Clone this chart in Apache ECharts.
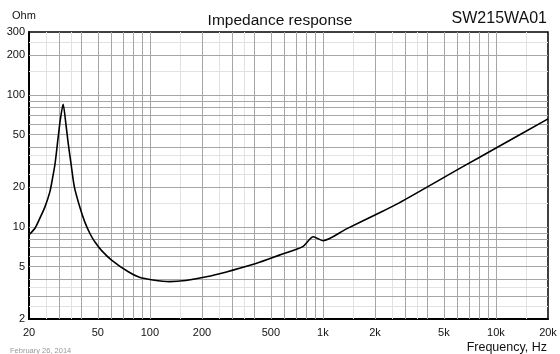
<!DOCTYPE html>
<html>
<head>
<meta charset="utf-8">
<script src="https://cdn.jsdelivr.net/npm/echarts@6/dist/echarts.min.js"></script>
<style>
  html, body { margin: 0; padding: 0; background: #fff; }
  #chart { width: 560px; height: 354px; }
</style>
</head>
<body>
<div id="chart"></div>
<script>
// measured impedance curve (Hz, Ohm)
const freqs = [20, 21.7, 23.1, 24.7, 26.4, 27.3, 28.3, 29.5, 30.4, 31.5, 32.6, 33.7, 35, 36.6, 39.4, 42, 45, 48, 52.6, 60, 75, 87, 104, 130, 212, 410, 560, 764, 880, 1000, 1360, 2000, 2760, 6440, 9960, 20000]
const ohms = [8.7, 9.8, 11.6, 14.1, 18.4, 23, 30.2, 48, 66, 85, 62, 43, 30, 20, 14, 10.9, 8.9, 7.7, 6.6, 5.6, 4.56, 4.14, 3.95, 3.84, 4.18, 5.28, 6.1, 7.08, 8.4, 7.85, 9.6, 12.3, 15.2, 28.6, 39.4, 65.8]

const xLabels = [20, 50, 100, 200, 500, 1000, 2000, 5000, 10000, 20000]
const yLabels = [2, 5, 10, 20, 50, 100, 200, 300]

// grid line positions
const decadeSteps = [1, 2, 3, 4, 5, 6, 7, 8, 9]
const halfSteps = [1.5, 2.5, 3.5]
const xDecades = [10, 100, 1000, 10000]
const yDecades = [1, 10, 100]

const font = '"Liberation Sans", Arial, sans-serif'

function gridValues(decades, steps, min, max) {
  const out = []
  decades.forEach((d) => steps.forEach((s) => {
    const v = d * s
    if (v > min && v < max) out.push(v)
  }))
  return out
}

const xDark = gridValues(xDecades, decadeSteps, 20, 20000)
const xLight = gridValues(xDecades, halfSteps, 20, 20000)
const yDark = gridValues(yDecades, decadeSteps, 2, 300)
const yLight = gridValues(yDecades, halfSteps, 2, 300)

function lines(vals, axis, color) {
  return vals.map((v) => ({ [axis]: v, lineStyle: { color, width: 1, type: 'solid' } }))
}

const chart = echarts.init(document.getElementById('chart'))
chart.setOption({
  animation: false,
  backgroundColor: '#fff',
  textStyle: { fontFamily: font },
  title: [
    { text: 'Impedance response', left: 'center', top: 8, textStyle: { fontSize: 15.5, fontWeight: 'normal', color: '#111', fontFamily: font } },
    { text: 'Ohm', left: 7, top: 5, textStyle: { fontSize: 11, fontWeight: 'normal', color: '#111', fontFamily: font } },
    { text: 'SW215WA01', right: 8, top: 6, textStyle: { fontSize: 16, fontWeight: 'normal', color: '#111', fontFamily: font } },
    { text: 'Frequency, Hz', right: 8, top: 336, textStyle: { fontSize: 12.5, fontWeight: 'normal', color: '#111', fontFamily: font } },
    { text: 'February 26, 2014', left: 5, top: 342, textStyle: { fontSize: 7.5, fontWeight: 'normal', color: '#999', fontFamily: font } },
  ],
  grid: { left: 29, top: 32, right: 12, bottom: 35, show: true, borderColor: '#000', borderWidth: 1.5 },
  xAxis: {
    type: 'log',
    logBase: 10,
    min: 20,
    max: 20000,
    axisLine: { lineStyle: { color: '#000', width: 2 } },
    axisTick: { show: false },
    splitLine: { show: false },
    axisLabel: {
      customValues: xLabels,
      color: '#111',
      fontSize: 11,
      margin: 8,
      formatter: (v) => (v >= 1000 ? v / 1000 + 'k' : String(v)),
    },
  },
  yAxis: {
    type: 'log',
    logBase: 10,
    min: 2,
    max: 300,
    axisLine: { show: true, lineStyle: { color: '#000', width: 2 } },
    axisTick: { show: false },
    splitLine: { show: false },
    axisLabel: {
      customValues: yLabels,
      color: '#111',
      fontSize: 11,
      margin: 4,
    },
  },
  series: [
    {
      type: 'line',
      data: [],
      silent: true,
      z: 1,
      markLine: {
        silent: true,
        symbol: 'none',
        label: { show: false },
        animation: false,
        data: [
          ...lines(xLight, 'xAxis', '#e2e2e2'),
          ...lines(yLight, 'yAxis', '#e2e2e2'),
          ...lines(xDark, 'xAxis', '#a6a6a6'),
          ...lines(yDark, 'yAxis', '#a6a6a6'),
        ],
      },
    },
    {
      type: 'line',
      z: 5,
      data: freqs.map((f, i) => [f, ohms[i]]),
      showSymbol: false,
      smooth: 0.25,
      lineStyle: { color: '#000', width: 1.6 },
    },
  ],
})
</script>
</body>
</html>
